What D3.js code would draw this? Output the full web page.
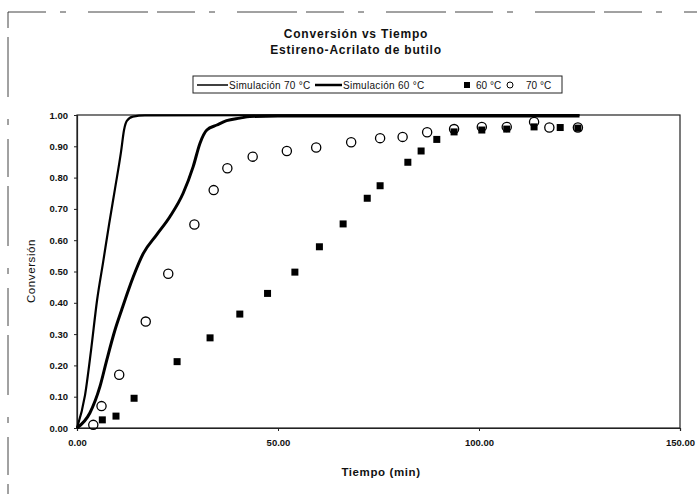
<!DOCTYPE html>
<html>
<head>
<meta charset="utf-8">
<script src="https://cdn.jsdelivr.net/npm/d3@7"></script>
<style>
  body { margin: 0; background: #fff; }
  text { font-family: "Liberation Sans", Arial, sans-serif; fill: #111; }
</style>
</head>
<body>
<script>
const width = 697
const height = 494

// simulation curves (time in min, conversion)
const sim70Time = [0, 2.0, 3.5, 5.0, 6.5, 8.0, 9.45, 10.95, 11.7, 12.4, 13.9, 16.9, 125]
const sim70Conv = [0, 0.105, 0.249, 0.409, 0.53, 0.652, 0.764, 0.882, 0.952, 0.981, 0.995, 0.999, 1.0]
const sim60Time = [0, 3.2, 5.7, 7.4, 9.45, 11.1, 12.8, 14.0, 16.5, 19.8, 23.1, 26.4, 28.9, 30.6, 32.3, 34.8, 37.2, 40.5, 43.0, 50, 125]
const sim60Conv = [0, 0.048, 0.132, 0.217, 0.313, 0.377, 0.441, 0.483, 0.558, 0.617, 0.675, 0.75, 0.835, 0.91, 0.952, 0.968, 0.982, 0.99, 0.995, 0.997, 0.997]

// experimental points
const exp60Time = [6.3, 9.7, 14.2, 24.9, 33.1, 40.5, 47.4, 54.2, 60.3, 66.2, 72.2, 75.4, 82.3, 85.6, 89.5, 93.8, 100.7, 106.9, 113.7, 120.2, 124.6]
const exp60Conv = [0.026, 0.038, 0.095, 0.212, 0.288, 0.364, 0.43, 0.498, 0.579, 0.652, 0.734, 0.774, 0.849, 0.885, 0.922, 0.946, 0.952, 0.955, 0.962, 0.96, 0.958]
const exp70Time = [4.05, 6.1, 10.5, 17.1, 22.7, 29.2, 34.0, 37.4, 43.7, 52.2, 59.5, 68.2, 75.4, 81.0, 87.1, 93.8, 100.7, 106.9, 113.7, 117.5, 124.6]
const exp70Conv = [0.01, 0.07, 0.17, 0.34, 0.493, 0.65, 0.76, 0.83, 0.867, 0.885, 0.896, 0.913, 0.926, 0.93, 0.945, 0.955, 0.962, 0.962, 0.978, 0.96, 0.96]

const xTicks = [0, 50, 100, 150]
const yTicks = [0, 0.1, 0.2, 0.3, 0.4, 0.5, 0.6, 0.7, 0.8, 0.9, 1.0]

const titleLines = ['Conversión vs Tiempo', 'Estireno-Acrilato de butilo']
const legendLabels = ['Simulación 70 °C', 'Simulación 60 °C', '60 °C', '70 °C']

const zip = (xs, ys) => xs.map((x, i) => ({ x: x, y: ys[i] }))

const x = d3.scaleLinear().domain([0, 150]).range([77, 680])
const y = d3.scaleLinear().domain([0, 1]).range([428, 115])

const svg = d3.select('body')
  .append('svg')
  .attr('width', width)
  .attr('height', height)

// outer chart frame (scan shows it broken)
svg.append('rect')
  .attr('x', 8).attr('y', 12)
  .attr('width', 700).attr('height', 500)
  .attr('fill', 'none')
  .attr('stroke', '#444')
  .attr('stroke-width', 1)
  .attr('stroke-dasharray', '38,14,6,22,60,9')

// plot frame
svg.append('rect')
  .attr('x', x(0)).attr('y', y(1))
  .attr('width', x(150) - x(0)).attr('height', y(0) - y(1))
  .attr('fill', 'none')
  .attr('stroke', '#222')
  .attr('stroke-width', 1.2)

/* ------- AXES -------*/
const xAxis = svg.append('g')
  .attr('transform', `translate(0, ${y(0)})`)
  .call(d3.axisBottom(x).tickValues(xTicks).tickFormat(d3.format('.2f')).tickSize(3).tickPadding(8))
const yAxis = svg.append('g')
  .attr('transform', `translate(${x(0)}, 0)`)
  .call(d3.axisLeft(y).tickValues(yTicks).tickFormat(d3.format('.2f')).tickSize(3).tickPadding(6))

for (const ax of [xAxis, yAxis]) {
  ax.select('.domain').attr('stroke', '#222').attr('stroke-width', 1.2)
  ax.selectAll('line').attr('stroke', '#222')
  ax.selectAll('text')
    .attr('font-size', 9.5)
    .attr('font-weight', 'bold')
    .style('font-family', '"Liberation Sans", Arial, sans-serif')
    .attr('fill', '#111')
}

svg.append('text')
  .attr('x', 381).attr('y', 476)
  .attr('text-anchor', 'middle')
  .attr('font-size', 11.5).attr('font-weight', 'bold')
  .attr('letter-spacing', 0.6)
  .text('Tiempo (min)')

svg.append('text')
  .attr('transform', 'translate(35, 271) rotate(-90)')
  .attr('text-anchor', 'middle')
  .attr('font-size', 11.5)
  .attr('letter-spacing', 0.6)
  .text('Conversión')

/* ------- TITLE -------*/
svg.selectAll('text.title')
  .data(titleLines)
  .enter()
  .append('text')
  .attr('class', 'title')
  .attr('x', 356)
  .attr('y', (d, i) => 38 + i * 16)
  .attr('text-anchor', 'middle')
  .attr('font-size', 12)
  .attr('font-weight', 'bold')
  .attr('letter-spacing', 0.8)
  .text(d => d)

/* ------- SERIES -------*/
const line = d3.line()
  .x(d => x(d.x))
  .y(d => y(d.y))
  .curve(d3.curveMonotoneX)

svg.append('path')
  .datum(zip(sim60Time, sim60Conv))
  .attr('d', line)
  .attr('fill', 'none')
  .attr('stroke', '#000')
  .attr('stroke-width', 3)

svg.append('path')
  .datum(zip(sim70Time, sim70Conv))
  .attr('d', line)
  .attr('fill', 'none')
  .attr('stroke', '#000')
  .attr('stroke-width', 2.2)

const sq = 7
svg.append('g')
  .selectAll('rect')
  .data(zip(exp60Time, exp60Conv))
  .enter()
  .append('rect')
  .attr('x', d => x(d.x) - sq / 2)
  .attr('y', d => y(d.y) - sq / 2)
  .attr('width', sq).attr('height', sq)
  .attr('fill', '#000')

svg.append('g')
  .selectAll('circle')
  .data(zip(exp70Time, exp70Conv))
  .enter()
  .append('circle')
  .attr('cx', d => x(d.x))
  .attr('cy', d => y(d.y))
  .attr('r', 4.6)
  .attr('fill', 'none')
  .attr('stroke', '#000')
  .attr('stroke-width', 1.3)

/* ------- LEGEND -------*/
const legend = svg.append('g')
legend.append('rect')
  .attr('x', 193).attr('y', 76)
  .attr('width', 369).attr('height', 17)
  .attr('fill', '#fff')
  .attr('stroke', '#222')
  .attr('stroke-width', 1)

const ly = 85
legend.append('line')
  .attr('x1', 197).attr('x2', 228).attr('y1', ly).attr('y2', ly)
  .attr('stroke', '#000').attr('stroke-width', 1.5)
legend.append('line')
  .attr('x1', 315).attr('x2', 342).attr('y1', ly).attr('y2', ly)
  .attr('stroke', '#000').attr('stroke-width', 2.5)
legend.append('rect')
  .attr('x', 467 - 3).attr('y', ly - 3)
  .attr('width', 6).attr('height', 6)
  .attr('fill', '#000')
legend.append('circle')
  .attr('cx', 510).attr('cy', ly).attr('r', 3)
  .attr('fill', 'none').attr('stroke', '#000').attr('stroke-width', 1)

const legendX = [229, 343, 476, 526]
legend.selectAll('text')
  .data(legendLabels)
  .enter()
  .append('text')
  .attr('x', (d, i) => legendX[i])
  .attr('y', ly + 3.5)
  .attr('font-size', 10)
  .attr('letter-spacing', (d, i) => i < 2 ? 0.3 : 0)
  .text(d => d)
</script>
</body>
</html>
